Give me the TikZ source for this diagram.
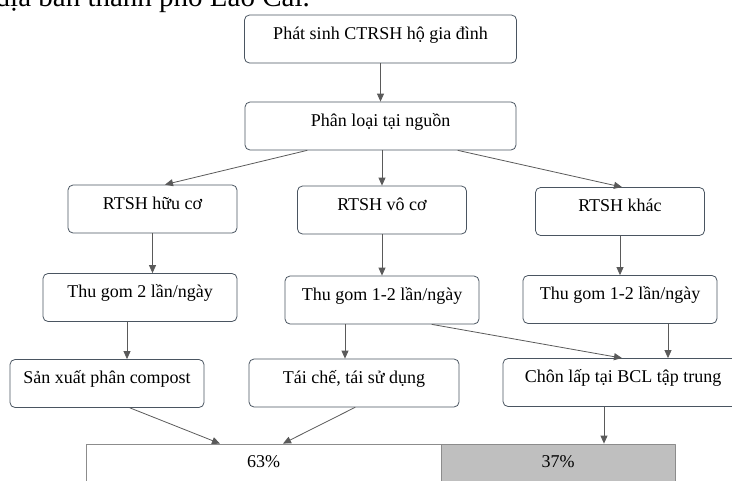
\documentclass[tikz,border=0pt]{standalone}
\usepackage{fontspec}
\setmainfont{Liberation Serif}
\newfontfamily\chartfont{Liberation Serif}
\usepackage{tikz}
\usetikzlibrary{arrows.meta, positioning}
\usepackage{xcolor}

\definecolor{boxline}{HTML}{4A5561}
\definecolor{arrowcol}{HTML}{5A5A5A}
\definecolor{barline}{HTML}{8C8C8C}
\definecolor{barfill}{HTML}{BFBFBF}

\begin{document}
\begin{tikzpicture}[x=1pt, y=-1pt, line cap=round, line join=round,
    box/.style={draw=boxline, line width=0.8pt, rounded corners=5pt, inner sep=0pt,
        align=center, text height=24pt, text depth=24pt,
        font=\chartfont\fontsize{18}{22}\selectfont},
    bar/.style={draw=barline, line width=0.8pt, inner sep=0pt,
        text height=23pt, text depth=33pt,
        font=\chartfont\fontsize{18}{22}\selectfont},
    flow/.style={-{Triangle[length=8pt, width=7pt]}, draw=arrowcol, line width=0.8pt}]
    \useasboundingbox (0,0) rectangle (732,480);

    % caption line cut off by the page
    \node[anchor=base east, inner sep=0pt, font=\chartfont\fontsize{29}{34}\selectfont] (cap) at (310,6)
        {địa bàn thành phố Lào Cai.};

    % top of the chart
    \node[box, minimum width=272pt] (src)  at (380.5,39)  {Phát sinh CTRSH hộ gia đình};
    \node[box, minimum width=271pt] (sort) at (380.5,126) {Phân loại tại nguồn};

    % kinds of waste
    \node[box, minimum width=169pt] (org)   at (152.5,209) {RTSH hữu cơ};
    \node[box, minimum width=169pt] (inorg) at (382,210)   {RTSH vô cơ};
    \node[box, minimum width=169pt] (other) at (620,211.5) {RTSH khác};

    % collection
    \node[box, minimum width=194pt] (colA) at (140,297.5) {Thu gom 2 lần/ngày};
    \node[box, minimum width=194pt] (colB) at (382,300)   {Thu gom 1-2 lần/ngày};
    \node[box, minimum width=194pt] (colC) at (620,299.5) {Thu gom 1-2 lần/ngày};

    % treatment
    \node[box, minimum width=194pt] (comp) at (107,383.5) {Sản xuất phân compost};
    \node[box, minimum width=210pt] (recy) at (354,383)   {Tái chế, tái sử dụng};
    \node[box, minimum width=240pt] (land) at (623,382.5) {Chôn lấp tại BCL tập trung};

    % shares
    \node[bar, minimum width=355pt, fill=white]   (bar63) at (263.5,472) {63\%};
    \node[bar, minimum width=234pt, fill=barfill] (bar37) at (558,472)   {37\%};

    % arrows
    \draw[flow] (src.south) -- (sort.north);
    \draw[flow] ([xshift=-73.5pt]sort.south) -- ([xshift=12.5pt]org.north);
    \draw[flow] (inorg.north |- sort.south) -- (inorg.north);
    \draw[flow] ([xshift=77.5pt]sort.south) -- ([xshift=2pt]other.north);

    \draw[flow] (org.south) -- (org.south |- colA.north);
    \draw[flow] (inorg.south) -- (inorg.south |- colB.north);
    \draw[flow] (other.south) -- (other.south |- colC.north);

    \draw[flow] ([xshift=-13pt]colA.south) -- ([xshift=20pt]comp.north);
    \draw[flow] ([xshift=-37pt]colB.south) -- ([xshift=-9pt]recy.north);
    \draw[flow] ([xshift=50pt]colB.south) -- ([xshift=-1pt]land.north);
    \draw[flow] ([xshift=48pt]colC.south) -- ([xshift=45pt]land.north);

    \draw[flow] ([xshift=23pt]comp.south) -- ([xshift=-43.5pt]bar63.north);
    \draw[flow] ([xshift=1pt]recy.south) -- ([xshift=19.5pt]bar63.north);
    \draw[flow] ([xshift=-19pt]land.south) -- ([xshift=46pt]bar37.north);
\end{tikzpicture}
\end{document}
